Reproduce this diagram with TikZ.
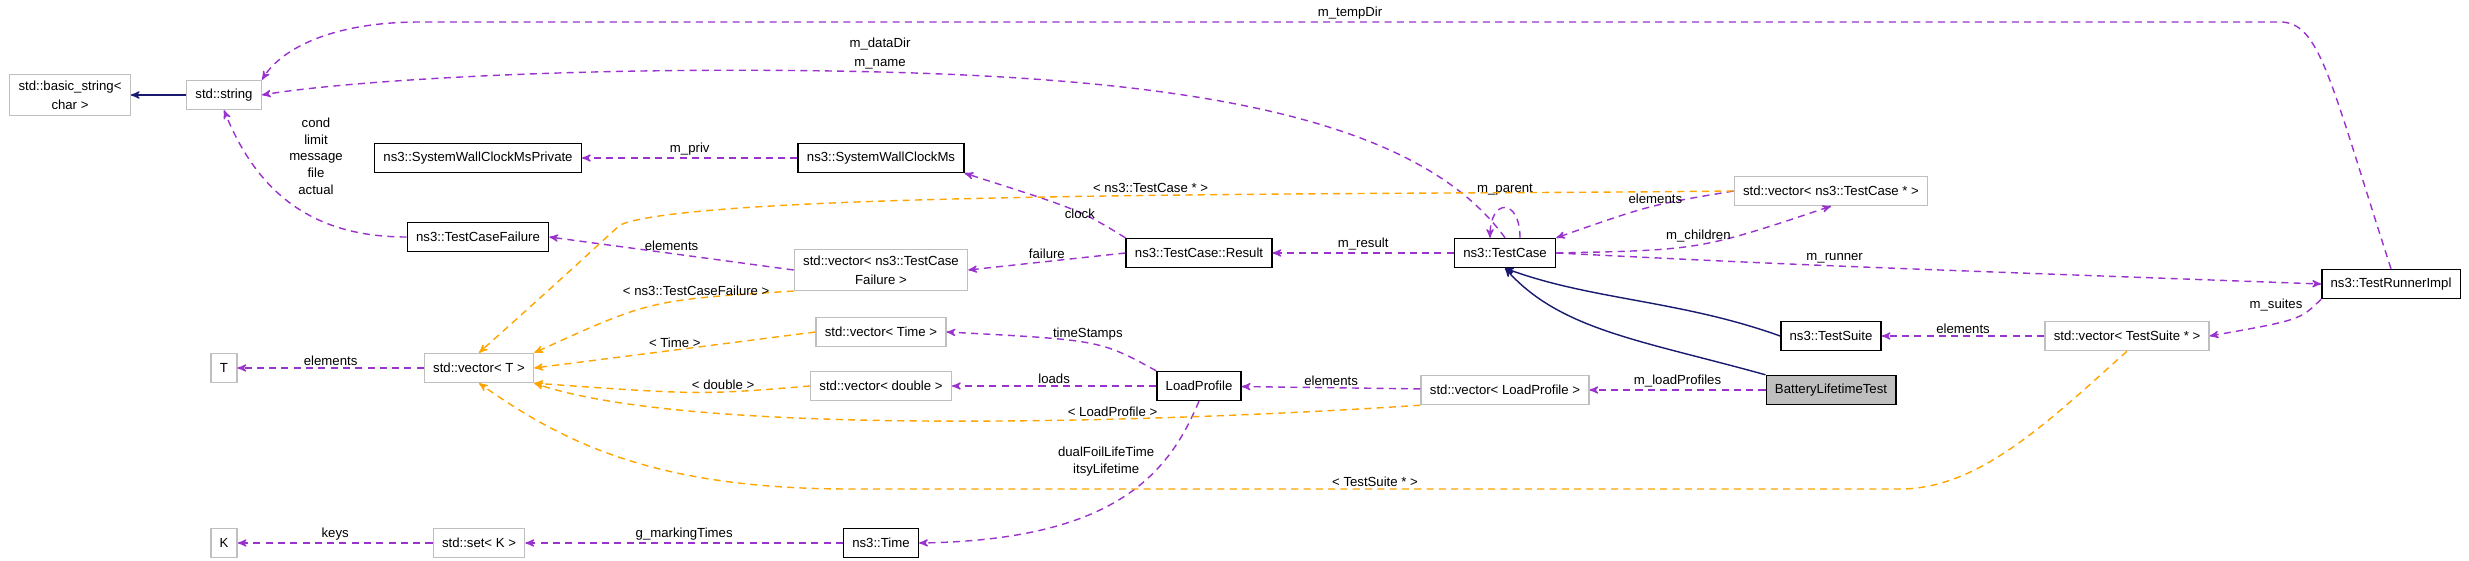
\documentclass[tikz,border=0pt]{standalone}
\usepackage{fontspec}
\setmainfont{Liberation Sans}
\usetikzlibrary{arrows}
\definecolor{memcol}{HTML}{9A32CD}
\definecolor{tplcol}{HTML}{FFA500}
\definecolor{inhcol}{HTML}{191970}

\begin{document}
\begin{tikzpicture}[x=0.02cm,y=-0.02cm,>=stealth',semithick,
  font=\fontsize{7.5}{11}\selectfont,
  cls/.style={draw=black,thick,fill=white,minimum height=0.58cm,inner xsep=5pt,align=center},
  ext/.style={draw=black!25,thick,fill=white,minimum height=0.58cm,inner xsep=5pt,align=center},
  hl/.style={cls,fill=black!25},
  mem/.style={->,dash pattern=on 4pt off 3pt,draw=memcol,thick},
  tpl/.style={->,dash pattern=on 4pt off 3pt,draw=tplcol,thick},
  inh/.style={->,draw=inhcol,thick},
  lbl/.style={fill=none,inner sep=1pt,align=center}]
 \useasboundingbox (0,0) rectangle (2469,561);
 %\tikzstyle{every node}=[draw=red]

 \node[ext] (bstr) at (70,95) {std::basic\_string\textless\\char \textgreater};
 \node[ext] (str) at (224,95) {std::string};
 \node[cls] (clkp) at (478,158) {ns3::SystemWallClockMsPrivate};
 \node[cls] (clk) at (881,158) {ns3::SystemWallClockMs};
 \node[cls] (tcf) at (478,237) {ns3::TestCaseFailure};
 \node[ext] (vtcf) at (881,270) {std::vector\textless{} ns3::TestCase\\Failure \textgreater};
 \node[ext] (vtime) at (881,332) {std::vector\textless{} Time \textgreater};
 \node[ext] (vdbl) at (881,386) {std::vector\textless{} double \textgreater};
 \node[ext] (t) at (224,368) {T};
 \node[ext] (vt) at (479,368) {std::vector\textless{} T \textgreater};
 \node[ext] (k) at (224,543) {K};
 \node[ext] (setk) at (479,543) {std::set\textless{} K \textgreater};
 \node[cls] (time) at (881,543) {ns3::Time};
 \node[cls] (res) at (1199,253) {ns3::TestCase::Result};
 \node[cls] (tc) at (1505,253) {ns3::TestCase};
 \node[ext] (vtc) at (1831,191) {std::vector\textless{} ns3::TestCase * \textgreater};
 \node[cls] (runner) at (2391,284) {ns3::TestRunnerImpl};
 \node[cls] (suite) at (1831,336) {ns3::TestSuite};
 \node[ext] (vsuite) at (2127,336) {std::vector\textless{} TestSuite * \textgreater};
 \node[cls] (lp) at (1199,386) {LoadProfile};
 \node[ext] (vlp) at (1505,390) {std::vector\textless{} LoadProfile \textgreater};
 \node[hl] (blt) at (1831,390) {BatteryLifetimeTest};

 \draw[inh] (str) -- (bstr);
 \draw[inh] (suite.west) .. controls (1680,300) and (1590,300) .. (tc.south);
 \draw[inh] (blt.north west) .. controls (1640,340) and (1560,330) .. (tc.south);

 \draw[mem] (runner.north) .. controls (2330,80) and (2320,22) .. (2280,22) -- (420,22)
   node[lbl,pos=0.5,above] {m\_tempDir} .. controls (330,22) and (280,50) .. (str.north east);
 \draw[mem] (tc.north) .. controls (1420,120) and (1200,80) .. (880,72)
   node[lbl,above] {m\_dataDir\\m\_name} .. controls (600,65) and (350,80) .. (str.east);
 \draw[mem] (tcf.west) .. controls (320,237) and (260,200) .. (str.south)
   node[lbl,at={(316,156)},font=\fontsize{7.5}{9.5}\selectfont] {cond\\limit\\message\\file\\actual};
 \draw[mem] (clk) -- node[lbl,above] {m\_priv} (clkp);
 \draw[mem] (res.north west) .. controls (1080,210) .. (clk.south east) node[lbl,pos=0.25,above left] {clock};
 \draw[mem] (res.west) -- node[lbl,above] {failure} (vtcf.east);
 \draw[mem] (vtcf.west) -- node[lbl,above] {elements} (tcf.east);
 \draw[mem] (vt) -- node[lbl,above] {elements} (t);
 \draw[mem] (setk) -- node[lbl,above] {keys} (k);
 \draw[mem] (time) -- node[lbl,above] {g\_markingTimes} (setk);
 \draw[mem] (lp.south) .. controls (1170,470) and (1120,540) .. (time.east)
   node[lbl,pos=0.3,left=4pt,font=\fontsize{7.5}{9.5}\selectfont] {dualFoilLifeTime\\itsyLifetime};
 \draw[mem] (lp.north west) .. controls (1100,340) .. (vtime.east) node[lbl,pos=0.5,above] {timeStamps};
 \draw[mem] (lp) -- node[lbl,above] {loads} (vdbl);
 \draw[mem] (vlp) -- node[lbl,above] {elements} (lp);
 \draw[mem] (blt) -- node[lbl,above] {m\_loadProfiles} (vlp);
 \draw[mem] (vsuite) -- node[lbl,above] {elements} (suite);
 \draw[mem] (runner.south west) .. controls (2300,320) .. (vsuite.east) node[lbl,pos=0.3,above left] {m\_suites};
 \draw[mem] (tc.east) .. controls (1800,265) .. (runner.west) node[lbl,pos=0.5,above] {m\_runner};
 \draw[mem] (tc.east) .. controls (1700,250) .. (vtc.south) node[lbl,pos=0.5,above] {m\_children};
 \draw[mem] (vtc.west) .. controls (1650,205) .. (tc.north east) node[lbl,pos=0.45,above] {elements};
 \draw[mem] ([xshift=0.3cm]tc.north) .. controls +(0,-40) and +(0,-40) .. ([xshift=-0.3cm]tc.north)
   node[lbl,pos=0.5,above=6pt] {m\_parent};
 \draw[mem] (tc) -- node[lbl,above] {m\_result} (res);

 \draw[tpl] (vtc.west) .. controls (1400,195) and (700,190) .. (620,225)
   node[lbl,pos=0.45,above] {\textless{} ns3::TestCase * \textgreater} .. controls (560,280) .. (vt.north);
 \draw[tpl] (vtcf.south west) .. controls (650,300) .. (vt.north east) node[lbl,pos=0.3,above] {\textless{} ns3::TestCaseFailure \textgreater};
 \draw[tpl] (vtime.west) -- node[lbl,above] {\textless{} Time \textgreater} (vt.east);
 \draw[tpl] (vdbl.west) .. controls (700,395) .. (vt.south east) node[lbl,pos=0.35,above] {\textless{} double \textgreater};
 \draw[tpl] (vlp.south west) .. controls (1200,420) and (700,440) .. (vt.south east)
   node[lbl,pos=0.35,above] {\textless{} LoadProfile \textgreater};
 \draw[tpl] (vsuite.south) .. controls (2050,420) and (1980,489) .. (1900,489) -- (850,489)
   node[lbl,pos=0.5,above] {\textless{} TestSuite * \textgreater} .. controls (650,489) and (560,440) .. (vt.south);
\end{tikzpicture}
\end{document}
